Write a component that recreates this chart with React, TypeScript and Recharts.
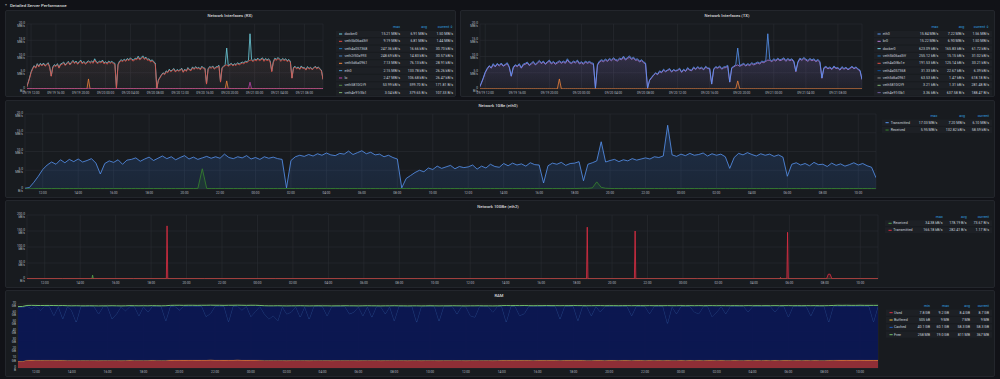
import React from 'react';
import { AreaChart, Area, XAxis, YAxis, CartesianGrid } from 'recharts';

// one sample every 15 min, t = hours since 09/19 11:00
const STEP_H = 0.25;

// eth0 transmit (MB/s); the same traffic shows on docker0 RX and eth0 TX
const TRAFFIC_MBS = [
  0.2, 0.4, 1.8, 3.4, 5.2, 6.4, 7.2, 6.6,
  7.8, 7.0, 7.9, 7.3, 8.0, 7.2, 7.6, 8.1,
  6.9, 4.0, 6.8, 7.5, 7.1, 7.8, 6.6, 7.7,
  7.9, 8.3, 7.4, 8.0, 8.5, 7.6, 8.2, 8.8,
  8.1, 8.6, 7.8, 8.4, 8.9, 8.0, 8.5, 7.9,
  8.3, 8.7, 8.2, 8.6, 8.2, 9.3, 8.4, 8.1,
  8.6, 8.3, 8.9, 8.0, 8.4, 7.9, 8.6, 8.2,
  8.5, 8.1, 7.9, 0.3, 7.6, 8.6, 9.0, 8.7,
  9.2, 8.8, 9.4, 9.0, 9.6, 9.1, 8.9, 9.5,
  9.3, 10.1, 9.2, 9.7, 10.2, 9.4, 9.8, 9.1,
  9.3, 8.6, 9.0, 8.4, 8.0, 0.3, 2.8, 3.6,
  4.4, 5.0, 4.6, 5.6, 5.2, 6.1, 5.5, 5.9,
  6.3, 5.4, 6.0, 5.7, 5.9, 6.4, 5.3, 6.1,
  5.6, 6.6, 6.0, 5.8, 6.8, 6.2, 6.9, 6.4,
  6.7, 6.1, 7.0, 6.5, 6.4, 1.6, 6.2, 6.9,
  6.6, 7.1, 6.3, 6.8, 6.9, 7.3, 2.2, 6.6,
  7.0, 7.5, 12.6, 7.2, 7.6, 7.9, 7.3, 7.8,
  7.5, 8.1, 7.7, 8.0, 8.3, 8.0, 8.6, 8.4,
  8.8, 17.0, 9.1, 8.7, 9.3, 8.9, 9.5, 9.0,
  9.2, 9.6, 8.8, 9.4, 9.0, 9.3, 8.6, 5.5,
  8.4, 9.5, 9.1, 9.7, 9.2, 8.8, 9.4, 9.0,
  9.3, 8.7, 9.1, 8.5, 3.4, 6.6, 7.0, 6.4,
  6.8, 6.2, 7.1, 6.5, 6.6, 6.0, 6.9, 6.3,
  6.7, 6.1, 6.5, 7.0, 6.4, 6.8, 6.2, 5.8,
  3.0,
];

// veth RX / br0 TX (MB/s)
const VETH_MBS = [
  0.1, 0.3, 1.6, 3.2, 5.0, 6.1, 7.0, 6.4,
  7.5, 6.8, 7.6, 7.1, 7.7, 7.0, 7.4, 7.8,
  6.6, 3.9, 6.5, 7.2, 6.9, 7.5, 6.4, 7.4,
  7.6, 8.0, 7.2, 7.7, 8.2, 7.4, 7.9, 8.5,
  7.8, 8.3, 7.6, 8.1, 8.6, 7.7, 8.2, 7.6,
  8.0, 8.4, 7.9, 8.3, 7.9, 8.9, 8.1, 7.8,
  8.3, 8.0, 8.6, 7.7, 8.1, 7.6, 8.3, 7.9,
  8.2, 7.8, 7.6, 0.2, 7.3, 8.3, 8.7, 8.4,
  8.9, 8.5, 9.1, 8.7, 9.3, 8.8, 8.6, 9.2,
  9.0, 9.7, 8.9, 9.4, 9.8, 9.1, 9.5, 8.8,
  9.0, 8.3, 8.7, 8.1, 7.7, 0.2, 2.6, 3.4,
  4.2, 4.8, 4.4, 5.3, 5.0, 5.8, 5.3, 5.7,
  6.0, 5.2, 5.8, 5.5, 5.7, 6.1, 5.1, 5.9,
  5.4, 6.3, 5.8, 5.6, 6.5, 6.0, 6.6, 6.2,
  6.4, 5.9, 6.7, 6.3, 6.2, 1.5, 6.0, 6.6,
  6.4, 6.8, 6.1, 6.5, 6.6, 7.0, 2.1, 6.4,
  6.8, 7.2, 7.4, 7.0, 7.3, 7.6, 7.1, 7.5,
  7.2, 7.8, 7.4, 7.7, 8.0, 7.7, 8.3, 8.1,
  8.5, 8.9, 8.8, 8.4, 9.0, 8.6, 9.2, 8.7,
  8.9, 9.3, 8.5, 9.1, 8.7, 9.0, 8.3, 5.3,
  8.1, 9.2, 8.8, 9.4, 8.9, 8.5, 9.1, 8.7,
  9.0, 8.4, 8.8, 8.2, 3.3, 6.4, 6.7, 6.2,
  6.5, 6.0, 6.8, 6.3, 6.4, 5.8, 6.6, 6.1,
  6.5, 5.9, 6.3, 6.8, 6.2, 6.6, 6.0, 5.6,
  2.9,
];

// eth0 received (MB/s)
const ETH0_RX_MBS = [
  0.01, 0.04, 0.09, 0.12, 0.14, 0.13, 0.12, 0.15, 0.13, 0.12, 0.14, 0.13, 0.12, 0.13, 0.15, 0.12,
  0.13, 0.12, 0.14, 0.13, 0.12, 0.13, 0.14, 0.12, 0.13, 0.15, 0.12, 0.13, 0.14, 0.12, 0.13, 0.12,
  0.14, 0.13, 0.12, 0.13, 0.14, 0.12, 0.13, 0.15, 5.4, 0.14, 0.12, 0.13, 0.14, 0.12, 0.13, 0.12,
  0.13, 0.14, 0.12, 0.13, 0.12, 0.14, 0.13, 0.12, 0.13, 0.14, 0.12, 0.13, 0.12, 0.14, 0.13, 0.12,
  0.14, 0.12, 0.13, 0.14, 0.12, 0.13, 0.15, 0.12, 0.13, 0.12, 0.14, 0.13, 0.12, 0.13, 0.14, 0.12,
  0.13, 0.12, 0.14, 0.13, 0.12, 0.13, 0.12, 0.14, 0.13, 0.12, 0.13, 0.14, 0.12, 0.13, 0.12, 0.14,
  0.13, 0.12, 0.13, 0.14, 0.12, 0.13, 0.14, 0.12, 0.13, 0.12, 0.14, 0.13, 0.12, 0.13, 0.12, 0.14,
  0.13, 0.12, 0.14, 0.13, 0.12, 0.13, 0.14, 0.12, 0.13, 0.12, 0.14, 0.13, 0.12, 0.16, 0.2, 0.18,
  0.3, 1.9, 0.45, 0.2, 0.14, 0.13, 0.12, 0.14, 0.13, 0.12, 0.13, 0.14, 0.12, 0.13, 0.12, 0.14,
  0.13, 0.12, 0.14, 0.13, 0.12, 0.13, 0.14, 0.12, 0.13, 0.12, 0.14, 0.13, 0.12, 0.13, 0.12, 0.14,
  0.13, 0.12, 0.13, 0.14, 0.12, 0.13, 0.14, 0.12, 0.13, 0.12, 0.14, 0.13, 0.12, 0.13, 0.12, 0.14,
  0.13, 0.12, 0.14, 0.13, 0.12, 0.13, 0.14, 0.12, 0.13, 0.12, 0.14, 0.13, 0.12, 0.13, 0.12, 0.14,
  0.06,
];

// small orange bursts on the RX / TX panels (MB/s)
const BURST_MBS = [
  0.05, 0.05, 0.05, 0.05, 0.05, 0.05, 0.05, 0.05, 0.05, 0.05, 0.05, 0.05, 0.05, 0.05, 0.05, 0.05,
  0.05, 0.05, 0.05, 0.05, 0.05, 0.05, 0.05, 0.05, 0.05, 0.05, 0.05, 0.05, 0.05, 0.05, 0.05, 0.05,
  0.05, 0.05, 0.05, 0.05, 0.05, 0.05, 0.05, 0.05, 0.05, 3.1, 0.05, 0.05, 0.05, 0.05, 0.05, 0.05,
  0.05, 0.05, 0.05, 0.05, 0.05, 0.05, 0.05, 0.05, 0.05, 0.05, 0.05, 0.05, 0.05, 0.05, 0.05, 0.05,
  0.05, 0.05, 0.05, 0.05, 0.05, 0.05, 0.05, 0.05, 0.05, 0.05, 0.05, 0.05, 0.05, 0.05, 0.05, 0.05,
  0.05, 0.05, 0.05, 0.05, 0.05, 0.05, 0.05, 0.05, 0.05, 0.05, 0.05, 0.05, 0.05, 0.05, 0.05, 0.05,
  0.05, 0.05, 0.05, 0.05, 0.05, 0.05, 0.05, 0.05, 0.05, 0.05, 0.05, 0.05, 0.05, 0.05, 0.05, 0.05,
  0.05, 0.05, 0.05, 0.05, 0.05, 0.05, 0.05, 0.05, 0.05, 0.05, 0.05, 0.05, 0.05, 0.05, 0.05, 0.05,
  0.05, 0.05, 2.5, 0.05, 0.05, 0.05, 0.05, 0.05, 0.05, 0.05, 0.05, 0.05, 0.05, 0.05, 0.05, 0.05,
  0.05, 0.05, 0.05, 0.05, 0.05, 0.05, 0.05, 0.05, 0.05, 0.05, 0.05, 0.05, 0.05, 0.05, 0.05, 0.05,
  0.05, 0.05, 0.05, 0.05, 0.05, 0.05, 0.05, 0.05, 0.05, 0.05, 0.05, 0.05, 0.05, 0.05, 0.05, 0.05,
  0.05, 0.05, 0.05, 0.05, 0.05, 0.05, 0.05, 0.05, 0.05, 0.05, 0.05, 0.05, 0.05, 0.05, 0.05, 0.05,
  0.05,
];

// lo (MB/s)
const LO_MBS = [
  0.08, 0.08, 0.08, 0.08, 0.08, 0.08, 0.08, 0.08, 0.08, 0.08, 0.08, 0.08, 0.08, 0.08, 0.08, 0.08,
  0.08, 0.08, 0.08, 0.08, 0.08, 0.08, 0.08, 0.08, 0.08, 0.08, 0.08, 0.08, 0.08, 0.08, 0.08, 0.08,
  0.08, 0.08, 0.08, 0.08, 0.08, 0.08, 0.08, 0.08, 0.08, 0.08, 0.08, 0.08, 0.08, 0.08, 0.08, 0.08,
  0.08, 0.08, 0.08, 0.08, 0.08, 0.08, 0.08, 0.08, 0.08, 0.08, 0.08, 0.08, 0.08, 0.08, 0.08, 0.08,
  0.08, 0.08, 0.08, 0.08, 0.08, 0.08, 0.08, 0.08, 0.08, 0.08, 0.08, 0.08, 0.08, 0.08, 0.08, 0.08,
  0.08, 0.08, 0.08, 0.08, 0.08, 0.08, 0.08, 0.08, 0.08, 0.08, 0.08, 0.08, 0.08, 0.08, 0.08, 0.08,
  0.08, 0.08, 0.08, 0.08, 0.08, 0.08, 0.08, 0.08, 0.08, 0.08, 0.08, 0.08, 0.08, 0.08, 0.08, 0.08,
  0.08, 0.08, 0.08, 0.08, 0.08, 0.08, 0.08, 0.08, 0.08, 0.08, 0.08, 0.08, 0.08, 0.08, 0.08, 0.08,
  0.08, 0.08, 0.08, 0.08, 0.08, 0.08, 0.08, 0.08, 0.08, 0.08, 0.08, 0.08, 0.08, 0.08, 0.08, 0.08,
  0.08, 2.1, 0.08, 0.08, 0.08, 0.08, 0.08, 0.08, 0.08, 0.08, 0.08, 0.08, 0.08, 0.08, 0.08, 0.08,
  0.08, 0.08, 0.08, 0.08, 0.08, 0.08, 0.08, 0.08, 0.08, 0.08, 0.08, 0.08, 0.08, 0.08, 0.08, 0.08,
  0.08, 0.08, 0.08, 0.08, 0.08, 0.08, 0.08, 0.08, 0.08, 0.08, 0.08, 0.08, 0.08, 0.08, 0.08, 0.08,
  0.08,
];

// RAM (GB)
const USED_GB = [
  7.4, 7.5, 8.6, 8.7, 8.6, 8.5, 8.6, 8.6,
  8.5, 8.4, 8.5, 8.3, 8.2, 8.3, 8.2, 8.2,
  8.3, 8.2, 8.1, 8.2, 8.2, 8.3, 8.2, 8.1,
  8.2, 8.4, 8.3, 8.2, 8.3, 8.2, 8.4, 8.3,
  8.2, 8.3, 8.7, 8.8, 8.8, 8.7, 8.8, 8.8,
  8.7, 8.8, 8.8, 8.9, 8.8, 8.8, 8.7, 8.8,
  8.8, 8.9, 8.8, 8.7, 8.8, 8.8, 8.6, 8.3,
  8.2, 8.2, 8.3, 8.2, 8.1, 8.2, 8.2, 8.3,
  8.2, 8.1, 8.2, 8.3, 8.2, 8.2, 8.1, 8.2,
  8.2, 8.3, 8.2, 8.2, 8.1, 8.2, 8.3, 8.2,
  8.2, 8.1, 8.2, 8.2, 8.3, 8.2, 8.2, 8.1,
  8.2, 8.2, 8.1, 8.2, 8.3, 8.2, 8.1, 8.2,
  8.2, 8.3, 8.2, 8.2, 8.1, 8.2, 8.2, 8.3,
  8.2, 8.2, 8.1, 8.2, 8.4, 8.5, 8.4, 8.5,
  8.4, 8.5, 8.4, 8.3, 8.4, 8.4, 8.5, 8.4,
  8.4, 8.3, 8.4, 8.4, 8.5, 8.4, 8.4, 8.3,
  8.3, 8.4, 8.4, 8.3, 8.4, 8.4, 8.3, 8.4,
  8.4, 8.3, 8.4, 8.4, 8.3, 8.4, 8.3, 8.4,
  8.3, 8.4, 8.3, 8.3, 8.4, 8.3, 8.4, 8.3,
  8.4, 8.3, 8.4, 8.4, 8.3, 8.4, 8.3, 8.3,
  8.4, 8.3, 8.3, 8.4, 8.3, 8.4, 8.3, 8.4,
  8.3, 8.4, 8.3, 8.4, 8.4, 8.3, 8.4, 8.3,
  8.4, 8.3, 8.4, 8.3, 8.3, 8.4, 8.6, 8.8,
  8.7, 8.8, 8.7, 8.7, 8.8, 8.7, 8.7, 8.7,
  8.7,
];

const BUFFERED_GB = [
  0.01, 0.01, 0.01, 0.01, 0.01, 0.01, 0.01, 0.01, 0.01, 0.01, 0.01, 0.01, 0.01, 0.01, 0.01, 0.01,
  0.01, 0.01, 0.01, 0.01, 0.01, 0.01, 0.01, 0.01, 0.01, 0.01, 0.01, 0.01, 0.01, 0.01, 0.01, 0.01,
  0.01, 0.01, 0.01, 0.01, 0.01, 0.01, 0.01, 0.01, 0.01, 0.01, 0.01, 0.01, 0.01, 0.01, 0.01, 0.01,
  0.01, 0.01, 0.01, 0.01, 0.01, 0.01, 0.01, 0.01, 0.01, 0.01, 0.01, 0.01, 0.01, 0.01, 0.01, 0.01,
  0.01, 0.01, 0.01, 0.01, 0.01, 0.01, 0.01, 0.01, 0.01, 0.01, 0.01, 0.01, 0.01, 0.01, 0.01, 0.01,
  0.01, 0.01, 0.01, 0.01, 0.01, 0.01, 0.01, 0.01, 0.01, 0.01, 0.01, 0.01, 0.01, 0.01, 0.01, 0.01,
  0.01, 0.01, 0.01, 0.01, 0.01, 0.01, 0.01, 0.01, 0.01, 0.01, 0.01, 0.01, 0.01, 0.01, 0.01, 0.01,
  0.01, 0.01, 0.01, 0.01, 0.01, 0.01, 0.01, 0.01, 0.01, 0.01, 0.01, 0.01, 0.01, 0.01, 0.01, 0.01,
  0.01, 0.01, 0.01, 0.01, 0.01, 0.01, 0.01, 0.01, 0.01, 0.01, 0.01, 0.01, 0.01, 0.01, 0.01, 0.01,
  0.01, 0.01, 0.01, 0.01, 0.01, 0.01, 0.01, 0.01, 0.01, 0.01, 0.01, 0.01, 0.01, 0.01, 0.01, 0.01,
  0.01, 0.01, 0.01, 0.01, 0.01, 0.01, 0.01, 0.01, 0.01, 0.01, 0.01, 0.01, 0.01, 0.01, 0.01, 0.01,
  0.01, 0.01, 0.01, 0.01, 0.01, 0.01, 0.01, 0.01, 0.01, 0.01, 0.01, 0.01, 0.01, 0.01, 0.01, 0.01,
  0.01,
];

const CACHED_GB = [
  59, 59, 59, 56.5, 59, 54.5, 59, 59,
  49, 59, 45.5, 59, 54.5, 42, 59, 59,
  59, 59, 51, 59, 59, 45.5, 51, 59,
  54.5, 59, 59, 49, 59, 53, 59, 59,
  59, 43.5, 59, 59, 54.5, 59, 59, 59,
  59, 59, 47.5, 51, 59, 59, 59, 42,
  59, 59, 54.5, 59, 47.5, 53, 59, 51,
  45.5, 49, 43.5, 59, 51, 53, 59, 47.5,
  59, 45.5, 59, 59, 59, 49, 59, 59,
  59, 59, 51, 53, 59, 49, 59, 47.5,
  59, 59, 51, 59, 43.5, 59, 59, 59,
  59, 42, 59, 59, 59, 59, 43.5, 59,
  59, 59, 51, 59, 59, 49, 47.5, 59,
  59, 59, 53, 59, 59, 42, 59, 59,
  49, 51, 59, 59, 59, 59, 59, 59,
  59, 45.5, 59, 59, 59, 43.5, 59, 59,
  49, 59, 53, 59, 59, 59, 59, 59,
  59, 49, 59, 59, 59, 51, 59, 59,
  59, 40.5, 59, 51, 59, 59, 59, 53,
  51, 59, 59, 47.5, 53, 59, 51, 59,
  59, 59, 59, 53, 59, 59, 59, 59,
  59, 53, 59, 59, 47.5, 59, 59, 59,
  59, 49, 59, 59, 59, 42, 59, 59,
  59, 59, 59, 59, 59, 59, 59, 42,
  59,
];

const FREE_GB = [
  0.8, 0.8, 0.8, 3.3, 0.8, 5.3, 0.8, 0.8,
  10.8, 0.8, 14.3, 0.8, 5.3, 17.8, 0.8, 0.8,
  0.8, 0.8, 8.8, 0.8, 0.8, 14.3, 8.8, 0.8,
  5.3, 0.8, 0.8, 10.8, 0.8, 6.8, 0.8, 0.8,
  0.8, 16.3, 0.8, 0.8, 5.3, 0.8, 0.8, 0.8,
  0.8, 0.8, 12.3, 8.8, 0.8, 0.8, 0.8, 17.8,
  0.8, 0.8, 5.3, 0.8, 12.3, 6.8, 0.8, 8.8,
  14.3, 10.8, 16.3, 0.8, 8.8, 6.8, 0.8, 12.3,
  0.8, 14.3, 0.8, 0.8, 0.8, 10.8, 0.8, 0.8,
  0.8, 0.8, 8.8, 6.8, 0.8, 10.8, 0.8, 12.3,
  0.8, 0.8, 8.8, 0.8, 16.3, 0.8, 0.8, 0.8,
  0.8, 17.8, 0.8, 0.8, 0.8, 0.8, 16.3, 0.8,
  0.8, 0.8, 8.8, 0.8, 0.8, 10.8, 12.3, 0.8,
  0.8, 0.8, 6.8, 0.8, 0.8, 17.8, 0.8, 0.8,
  10.8, 8.8, 0.8, 0.8, 0.8, 0.8, 0.8, 0.8,
  0.8, 14.3, 0.8, 0.8, 0.8, 16.3, 0.8, 0.8,
  10.8, 0.8, 6.8, 0.8, 0.8, 0.8, 0.8, 0.8,
  0.8, 10.8, 0.8, 0.8, 0.8, 8.8, 0.8, 0.8,
  0.8, 19.3, 0.8, 8.8, 0.8, 0.8, 0.8, 6.8,
  8.8, 0.8, 0.8, 12.3, 6.8, 0.8, 8.8, 0.8,
  0.8, 0.8, 0.8, 6.8, 0.8, 0.8, 0.8, 0.8,
  0.8, 6.8, 0.8, 0.8, 12.3, 0.8, 0.8, 0.8,
  0.8, 10.8, 0.8, 0.8, 0.8, 17.8, 0.8, 0.8,
  0.8, 0.8, 0.8, 0.8, 0.8, 0.8, 0.8, 17.8,
  0.8,
];

// 10GBe eth2 (kB/s), sparse samples around the bursts
const TEN_T = [
  0, 2, 3.66, 3.7, 3.74, 6, 7.86, 7.9, 7.94, 10, 14, 18, 22,
  26.48, 26.5, 26.52, 29.48, 29.5, 29.52, 31.56, 31.6, 31.64,
  34.26, 34.3, 34.34, 37.78, 37.8, 37.82, 39.48, 39.5, 39.52,
  42.46, 42.5, 42.54, 42.86, 42.9, 42.94, 45.1, 45.2, 45.3, 45.4, 47, 48,
];
const TEN_RX = [
  0.2, 0.2, 0.2, 12, 0.2, 0.2, 0.2, 0.2, 0.2, 0.2, 0.2, 0.2, 0.2,
  0.2, 0.2, 0.2, 0.2, 0.2, 0.2, 0.2, 0.2, 0.2,
  0.2, 0.2, 0.2, 0.2, 0.2, 0.2, 0.2, 0.2, 0.2,
  0.2, 3, 0.2, 0.2, 0.2, 0.2, 0.2, 0.2, 0.2, 0.2, 0.2, 0.2,
];
const TEN_TX = [
  0.8, 0.8, 0.8, 0.8, 0.8, 0.8, 0.8, 166, 0.8, 0.8, 0.8, 0.8, 0.8,
  0.8, 3, 0.8, 0.8, 2.5, 0.8, 0.8, 162, 0.8,
  0.8, 150, 0.8, 0.8, 2, 0.8, 0.8, 2.5, 0.8,
  0.8, 5, 0.8, 0.8, 146, 0.8, 0.8, 15, 15, 0.8, 0.8, 0.8,
];

// axes
const WIDE_TICKS = [1, 5, 9, 13, 17, 21, 25, 29, 33, 37, 41, 45];
const WIDE_LABELS = ['09/19 12:00', '09/19 16:00', '09/19 20:00', '09/20 00:00', '09/20 04:00', '09/20 08:00',
  '09/20 12:00', '09/20 16:00', '09/20 20:00', '09/21 00:00', '09/21 04:00', '09/21 08:00'];
const HOUR_TICKS = [1, 3, 5, 7, 9, 11, 13, 15, 17, 19, 21, 23, 25, 27, 29, 31, 33, 35, 37, 39, 41, 43, 45, 47];
const HOUR_LABELS = ['12:00', '14:00', '16:00', '18:00', '20:00', '22:00', '00:00', '02:00', '04:00', '06:00', '08:00', '10:00',
  '12:00', '14:00', '16:00', '18:00', '20:00', '22:00', '00:00', '02:00', '04:00', '06:00', '08:00', '10:00'];
const MBS_TICKS = [0, 5, 10, 15, 20];
const MBS_LABELS = ['0 B/s', '5.0 MB/s', '10.0 MB/s', '15.0 MB/s', '20.0 MB/s'];
const KBS_TICKS = [0, 50, 100, 150, 200];
const KBS_LABELS = ['0 B/s', '50.0 kB/s', '100.0 kB/s', '150.0 kB/s', '200.0 kB/s'];
const GB_TICKS = [0, 10, 20, 30, 40, 50, 60, 70];
const GB_LABELS = ['0 B', '10 GB', '20 GB', '30 GB', '40 GB', '50 GB', '60 GB', '70 GB'];

// legends
const RX_NAMES = ['docker0', 'veth5b06ad3ff', 'veth4a057368', 'veth2f50a993', 'veth5d6a0961', 'eth0', 'lo', 'veth5810f2f9', 'veth4e91f3b1'];
const RX_COLORS = ['#6ED0E0', '#E24D42', '#1F78C1', '#447EBC', '#EF843C', '#5195CE', '#BA43A9', '#508642', '#7EB26D'];
const RX_MAX = ['15.21 MB/s', '9.19 MB/s', '247.36 kB/s', '248.69 kB/s', '7.13 MB/s', '2.15 MB/s', '2.47 MB/s', '53.99 kB/s', '3.04 kB/s'];
const RX_AVG = ['6.91 MB/s', '6.81 MB/s', '16.66 kB/s', '14.83 kB/s', '76.13 kB/s', '133.78 kB/s', '106.68 kB/s', '599.70 B/s', '379.65 B/s'];
const RX_CUR = ['1.50 MB/s', '1.44 MB/s', '30.70 kB/s', '30.57 kB/s', '28.91 kB/s', '26.26 kB/s', '26.47 kB/s', '171.81 B/s', '107.33 B/s'];

const TX_NAMES = ['eth0', 'br0', 'docker0', 'veth5b06ad3ff', 'veth4a0f8c1e', 'veth4a057368', 'veth5d6a0961', 'veth5810f2f9', 'veth4e91f3b1'];
const TX_COLORS = ['#5794F2', '#B877D9', '#6ED0E0', '#1F78C1', '#E24D42', '#0A50A1', '#8F8F8F', '#7EB26D', '#705DA0'];
const TX_MAX = ['15.84 MB/s', '15.22 MB/s', '623.09 kB/s', '255.12 kB/s', '191.53 kB/s', '31.33 kB/s', '63.53 kB/s', '3.21 kB/s', '3.36 kB/s'];
const TX_AVG = ['7.22 MB/s', '6.90 MB/s', '165.83 kB/s', '15.15 kB/s', '125.14 kB/s', '22.67 kB/s', '1.47 kB/s', '1.31 kB/s', '637.58 B/s'];
const TX_CUR = ['1.56 MB/s', '1.50 MB/s', '61.72 kB/s', '31.02 kB/s', '33.21 kB/s', '6.39 kB/s', '618.18 B/s', '281.48 B/s', '188.47 B/s'];

const ETH0_NAMES = ['Transmitted', 'Received'];
const ETH0_COLORS = ['#5794F2', '#37872D'];
const ETH0_MAX = ['17.03 MB/s', '5.95 MB/s'];
const ETH0_AVG = ['7.20 MB/s', '132.82 kB/s'];
const ETH0_CUR = ['6.10 MB/s', '58.59 kB/s'];

const ETH2_NAMES = ['Received', 'Transmitted'];
const ETH2_COLORS = ['#56A64B', '#E02F44'];
const ETH2_MAX = ['34.38 kB/s', '166.18 kB/s'];
const ETH2_AVG = ['178.19 B/s', '282.41 B/s'];
const ETH2_CUR = ['73.67 B/s', '1.17 B/s'];

const RAM_NAMES = ['Used', 'Buffered', 'Cached', 'Free'];
const RAM_COLORS = ['#E02F44', '#EAB839', '#1F60C4', '#73BF69'];
const RAM_MIN = ['7.8 GB', '505 kB', '40.1 GB', '258 MB'];
const RAM_MAX = ['9.2 GB', '9 MB', '60.1 GB', '19.0 GB'];
const RAM_AVG = ['8.4 GB', '7 MB', '58.3 GB', '811 MB'];
const RAM_CUR = ['8.7 GB', '9 MB', '58.3 GB', '367 MB'];

const gridData = TRAFFIC_MBS.map((v, i) => ({
  t: i * STEP_H,
  traffic: v,
  veth: VETH_MBS[i],
  eth0Rx: ETH0_RX_MBS[i],
  burst: BURST_MBS[i],
  lo: LO_MBS[i],
  used: USED_GB[i],
  buffered: BUFFERED_GB[i],
  cached: CACHED_GB[i],
  free: FREE_GB[i],
}));
const tenData = TEN_T.map((t, i) => ({ t, rx: TEN_RX[i], tx: TEN_TX[i] }));

const BG = '#111217';
const PANEL = '#181b1f';
const BORDER = '#23262c';
const GRID = '#2a2d33';
const TICK = '#b4b9c1';
const TEXT = '#c7d0d9';
const HEAD = '#33a2e5';
const NAVY = '#0b1754';
const FONT = 'Roboto, Inter, "DejaVu Sans", sans-serif';

type Box = { left: number; top: number; width: number; height: number; mt: number; mr: number; yw: number; xh: number };

function TimePlot(props: {
  box: Box; data: any[]; xDomain: [number, number]; xTicks: number[]; xLabels: string[];
  yMax: number; yTicks: number[]; yLabels: string[]; children: React.ReactNode;
}) {
  const { box } = props;
  const tick = { fill: TICK, fontSize: 3.2, fontFamily: FONT };
  return (
    <div style={{ position: 'absolute', left: box.left, top: box.top }}>
      <AreaChart width={box.width} height={box.height} data={props.data}
        margin={{ top: box.mt, right: box.mr, bottom: 0, left: 0 }}>
        <CartesianGrid stroke={GRID} strokeWidth={0.6} />
        <XAxis type="number" dataKey="t" domain={props.xDomain} allowDataOverflow ticks={props.xTicks} interval={0}
          tickFormatter={(v: number) => props.xLabels[props.xTicks.indexOf(v)] ?? ''}
          height={box.xh} tickSize={0} tickMargin={2.6} axisLine={false} tick={tick} />
        <YAxis type="number" domain={[0, props.yMax]} allowDataOverflow ticks={props.yTicks} interval={0}
          tickFormatter={(v: number) => props.yLabels[props.yTicks.indexOf(v)] ?? ''}
          width={box.yw} tickSize={0} tickMargin={2} axisLine={false} tick={tick} />
        {props.children}
      </AreaChart>
    </div>
  );
}

function grad(id: string, color: string, top: number, bottom: number) {
  return (
    <linearGradient id={id} key={id} x1="0" y1="0" x2="0" y2="1">
      <stop offset="0" stopColor={color} stopOpacity={top} />
      <stop offset="1" stopColor={color} stopOpacity={bottom} />
    </linearGradient>
  );
}

type LegendSpec = {
  headY: number; rowY: number; step: number; markerX: number; nameX: number; band: [number, number];
  colX: number[]; heads: string[]; names: string[]; colors: string[]; cols: string[][];
};

function Legend({ s }: { s: LegendSpec }) {
  return (
    <g fontFamily={FONT} fontSize={3.6}>
      {s.heads.map((h, i) => (
        <text key={h} x={s.colX[i]} y={s.headY} textAnchor="end" dominantBaseline="central" fill={HEAD}>{h}</text>
      ))}
      {s.names.map((n, r) => {
        const y = s.rowY + r * s.step;
        return (
          <g key={n + r}>
            <rect x={s.band[0]} y={y - s.step / 2 + 0.5} width={s.band[1] - s.band[0]} height={s.step - 1} fill="#1d2025" />
            <line x1={s.markerX} x2={s.markerX + 3.2} y1={y} y2={y} stroke={s.colors[r]} strokeWidth={1} />
            <text x={s.nameX} y={y} dominantBaseline="central" fill={TEXT}>{n}</text>
            {s.cols.map((c, ci) => (
              <text key={ci} x={s.colX[ci]} y={y} textAnchor="end" dominantBaseline="central" fill={TEXT}>{c[r]}</text>
            ))}
          </g>
        );
      })}
    </g>
  );
}

const line = { type: 'linear' as const, isAnimationActive: false, dot: false, activeDot: false };

export default function App() {
  const panels = [
    { left: 5, top: 10, width: 451, height: 87 },
    { left: 460, top: 10, width: 535, height: 87 },
    { left: 5, top: 100, width: 990, height: 98 },
    { left: 5, top: 200, width: 990, height: 88 },
    { left: 5, top: 290, width: 990, height: 87 },
  ];
  return (
    <div style={{ position: 'absolute', left: 0, top: 0, width: 1000, height: 379, background: BG, overflow: 'hidden', fontFamily: FONT }}>
      {panels.map((p, i) => (
        <div key={i} style={{ position: 'absolute', left: p.left, top: p.top, width: p.width, height: p.height,
          background: PANEL, border: `1px solid ${BORDER}`, borderRadius: 2, boxSizing: 'border-box' }} />
      ))}

      {/* Network Interfaces (RX) */}
      <TimePlot box={{ left: 5, top: 14, width: 325, height: 84, mt: 10, mr: 7, yw: 22, xh: 9 }} data={gridData}
        xDomain={[0.35, 48]} xTicks={WIDE_TICKS} xLabels={WIDE_LABELS} yMax={20} yTicks={MBS_TICKS} yLabels={MBS_LABELS}>
        {[
          <defs key="d">{[grad('gRxCyan', '#6ED0E0', 0.12, 0.04), grad('gRxRed', '#E24D42', 0.14, 0.04)]}</defs>,
          <Area key="a1" {...line} dataKey="traffic" stroke="#6ED0E0" strokeWidth={0.8} fill="url(#gRxCyan)" />,
          <Area key="a2" {...line} dataKey="veth" stroke="#E24D42" strokeWidth={0.8} fill="url(#gRxRed)" />,
          <Area key="a3" {...line} dataKey="burst" stroke="#EF843C" strokeWidth={0.8} fill="#EF843C" fillOpacity={0.1} />,
          <Area key="a4" {...line} dataKey="lo" stroke="#BA43A9" strokeWidth={0.8} fill="none" />,
        ]}
      </TimePlot>

      {/* Network Interfaces (TX) */}
      <TimePlot box={{ left: 455, top: 14, width: 412, height: 84, mt: 10, mr: 5, yw: 25, xh: 9 }} data={gridData}
        xDomain={[0.35, 48]} xTicks={WIDE_TICKS} xLabels={WIDE_LABELS} yMax={20} yTicks={MBS_TICKS} yLabels={MBS_LABELS}>
        {[
          <defs key="d">{[grad('gTxPurple', '#B877D9', 0.24, 0.06), grad('gTxBlue', '#5794F2', 0.16, 0.04)]}</defs>,
          <Area key="a1" {...line} dataKey="veth" stroke="#B877D9" strokeWidth={0.8} fill="url(#gTxPurple)" />,
          <Area key="a2" {...line} dataKey="traffic" stroke="#5794F2" strokeWidth={0.8} fill="url(#gTxBlue)" />,
          <Area key="a3" {...line} dataKey="burst" stroke="#EF843C" strokeWidth={0.8} fill="#EF843C" fillOpacity={0.1} />,
        ]}
      </TimePlot>

      {/* Network 1GBe (eth0) */}
      <TimePlot box={{ left: 5, top: 105, width: 880, height: 93, mt: 9, mr: 9, yw: 20, xh: 9 }} data={gridData}
        xDomain={[0, 48]} xTicks={HOUR_TICKS} xLabels={HOUR_LABELS} yMax={20} yTicks={MBS_TICKS} yLabels={MBS_LABELS}>
        {[
          <defs key="d">{[grad('gEthBlue', '#3274D9', 0.36, 0.22)]}</defs>,
          <Area key="a1" {...line} dataKey="traffic" stroke="#5794F2" strokeWidth={0.8} fill="url(#gEthBlue)" />,
          <Area key="a2" {...line} dataKey="eth0Rx" stroke="#37872D" strokeWidth={0.8} fill="#37872D" fillOpacity={0.15} />,
        ]}
      </TimePlot>

      {/* Network 10GBe (eth2) */}
      <TimePlot box={{ left: 5, top: 207, width: 880, height: 81, mt: 8, mr: 7, yw: 22, xh: 9 }} data={tenData}
        xDomain={[0, 48]} xTicks={HOUR_TICKS} xLabels={HOUR_LABELS} yMax={200} yTicks={KBS_TICKS} yLabels={KBS_LABELS}>
        {[
          <Area key="a1" {...line} dataKey="rx" stroke="#56A64B" strokeWidth={0.8} fill="#56A64B" fillOpacity={0.12} />,
          <Area key="a2" {...line} dataKey="tx" stroke="#E02F44" strokeWidth={0.8} fill="#E02F44" fillOpacity={0.18} />,
        ]}
      </TimePlot>

      {/* RAM */}
      <TimePlot box={{ left: 5, top: 298, width: 880, height: 79, mt: 6, mr: 7, yw: 13, xh: 9 }} data={gridData}
        xDomain={[0, 48]} xTicks={HOUR_TICKS} xLabels={HOUR_LABELS} yMax={70} yTicks={GB_TICKS} yLabels={GB_LABELS}>
        {[
          <Area key="a1" {...line} stackId="ram" dataKey="used" stroke="#E02F44" strokeWidth={0.5} fill="#8f2e36" fillOpacity={1} />,
          <Area key="a2" {...line} stackId="ram" dataKey="buffered" stroke="#EAB839" strokeWidth={0.8} fill="#EAB839" fillOpacity={0.4} />,
          <Area key="a3" {...line} stackId="ram" dataKey="cached" stroke="#2f5ba6" strokeWidth={0.6} fill={NAVY} fillOpacity={0.93} />,
          <Area key="a4" {...line} stackId="ram" dataKey="free" stroke="#73BF69" strokeWidth={1} fill={NAVY} fillOpacity={0.93} />,
        ]}
      </TimePlot>

      <svg width={1000} height={379} style={{ position: 'absolute', left: 0, top: 0, pointerEvents: 'none' }}>
        <g fontFamily={FONT} fill="#d8d9da">
          <text x={5} y={5.2} fontSize={4.4} dominantBaseline="central">˅</text>
          <text x={10} y={5} fontSize={4.4} fontWeight={500} dominantBaseline="central">Detailed Server Performance</text>
          <text x={230} y={15.3} fontSize={4.2} fontWeight={500} textAnchor="middle" dominantBaseline="central">Network Interfaces (RX)</text>
          <text x={727} y={15.3} fontSize={4.2} fontWeight={500} textAnchor="middle" dominantBaseline="central">Network Interfaces (TX)</text>
          <text x={498} y={105.3} fontSize={4.2} fontWeight={500} textAnchor="middle" dominantBaseline="central">Network 1GBe (eth0)</text>
          <text x={498} y={206} fontSize={4.2} fontWeight={500} textAnchor="middle" dominantBaseline="central">Network 10GBe (eth2)</text>
          <text x={499} y={295.3} fontSize={4.2} fontWeight={500} textAnchor="middle" dominantBaseline="central">RAM</text>
        </g>
        <Legend s={{ headY: 27.3, rowY: 34, step: 7.33, markerX: 339, nameX: 344.5, band: [336, 455],
          colX: [400, 427, 453], heads: ['max', 'avg', 'current ↓'], names: RX_NAMES, colors: RX_COLORS, cols: [RX_MAX, RX_AVG, RX_CUR] }} />
        <Legend s={{ headY: 27.3, rowY: 34, step: 7.33, markerX: 877.5, nameX: 882.7, band: [874, 992],
          colX: [938.3, 964.3, 989], heads: ['max', 'avg', 'current ↓'], names: TX_NAMES, colors: TX_COLORS, cols: [TX_MAX, TX_AVG, TX_CUR] }} />
        <Legend s={{ headY: 116.3, rowY: 122.7, step: 7.33, markerX: 885.5, nameX: 890.7, band: [882, 992],
          colX: [937.3, 965, 989], heads: ['max', 'avg', 'current'], names: ETH0_NAMES, colors: ETH0_COLORS, cols: [ETH0_MAX, ETH0_AVG, ETH0_CUR] }} />
        <Legend s={{ headY: 217.3, rowY: 223.3, step: 7.0, markerX: 888.5, nameX: 893.3, band: [885, 992],
          colX: [942.7, 966.7, 989], heads: ['max', 'avg', 'current'], names: ETH2_NAMES, colors: ETH2_COLORS, cols: [ETH2_MAX, ETH2_AVG, ETH2_CUR] }} />
        <Legend s={{ headY: 306, rowY: 312.7, step: 7.33, markerX: 889.5, nameX: 894, band: [886, 992],
          colX: [930, 949, 970, 989], heads: ['min', 'max', 'avg', 'current'], names: RAM_NAMES, colors: RAM_COLORS,
          cols: [RAM_MIN, RAM_MAX, RAM_AVG, RAM_CUR] }} />
      </svg>
    </div>
  );
}
